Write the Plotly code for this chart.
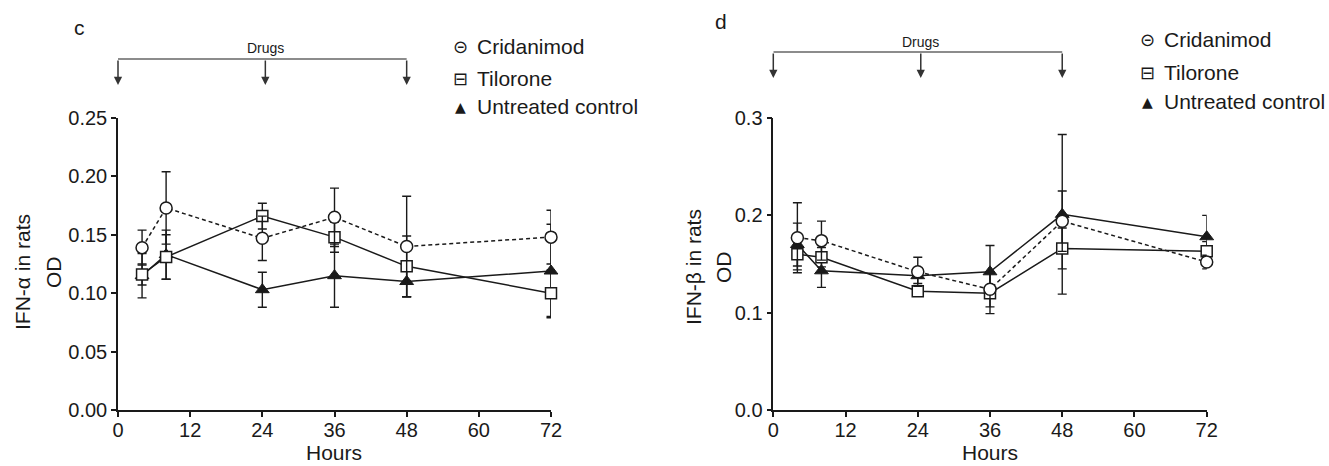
import plotly.graph_objects as go

W, H = 1329, 466

hours = [4, 8, 24, 36, 48, 72]
x_ticks = [0, 12, 24, 36, 48, 60, 72]
dose_hours = [0, 24.5, 48]

# Panel c: IFN-alpha
a_crid = [0.139, 0.173, 0.147, 0.165, 0.140, 0.148]
a_crid_err = [0.015, 0.031, 0.019, 0.025, 0.043, 0.023]
a_tilo = [0.116, 0.131, 0.166, 0.148, 0.123, 0.100]
a_tilo_err = [0.009, 0.019, 0.011, 0.013, 0.026, 0.020]
a_untr = [0.115, 0.133, 0.103, 0.115, 0.110, 0.119]
a_untr_err = [0.019, 0.021, 0.015, 0.027, 0.013, 0.040]
a_yticks = [0.00, 0.05, 0.10, 0.15, 0.20, 0.25]

# Panel d: IFN-beta
b_crid = [0.177, 0.174, 0.142, 0.124, 0.194, 0.152]
b_crid_err = [0.036, 0.020, 0.015, 0.018, 0.031, 0.007]
b_tilo = [0.160, 0.157, 0.122, 0.120, 0.166, 0.163]
b_tilo_err = [0.016, 0.010, 0.005, 0.021, 0.021, 0.010]
b_untr = [0.170, 0.143, 0.138, 0.142, 0.201, 0.178]
b_untr_err = [0.022, 0.017, 0.008, 0.027, 0.082, 0.022]
b_yticks = [0.0, 0.1, 0.2, 0.3]

series_names = ["Cridanimod", "Tilorone", "Untreated control"]
legend_symbols = ["\u229d", "\u229f", "\u25b2"]

FONT = "Arial, Liberation Sans, sans-serif"
INK = "#1a1a1a"

def px(x):
    return x / W

def py(y):
    return 1 - y / H

fig = go.Figure()

def add_panel(xa, ya, crid, crid_e, tilo, tilo_e, untr, untr_e):
    common = dict(x=hours, xaxis=xa, yaxis=ya, showlegend=False, cliponaxis=False,
                  mode="lines+markers")
    err = lambda e: dict(type="data", array=e, visible=True, color=INK, thickness=1.4, width=4.5)
    fig.add_trace(go.Scatter(y=untr, error_y=err(untr_e), name=series_names[2],
                             line=dict(color=INK, width=1.5),
                             marker=dict(symbol="triangle-up", size=12, color=INK,
                                         line=dict(color=INK, width=1)), **common))
    fig.add_trace(go.Scatter(y=tilo, error_y=err(tilo_e), name=series_names[1],
                             line=dict(color=INK, width=1.5),
                             marker=dict(symbol="square", size=11, color="white",
                                         line=dict(color=INK, width=1.5)), **common))
    fig.add_trace(go.Scatter(y=crid, error_y=err(crid_e), name=series_names[0],
                             line=dict(color=INK, width=1.5, dash="4px,3px"),
                             marker=dict(symbol="circle", size=12, color="white",
                                         line=dict(color=INK, width=1.5)), **common))

add_panel("x", "y", a_crid, a_crid_err, a_tilo, a_tilo_err, a_untr, a_untr_err)
add_panel("x2", "y2", b_crid, b_crid_err, b_tilo, b_tilo_err, b_untr, b_untr_err)

axis_common = dict(showgrid=False, zeroline=False, showline=True, linecolor=INK, linewidth=1.5,
                   ticks="outside", ticklen=5, tickwidth=1.5, tickcolor=INK,
                   tickfont=dict(family=FONT, size=20, color=INK), automargin=False)

ydom = [py(410), py(118)]
fig.update_layout(
    width=W, height=H, margin=dict(l=0, r=0, t=0, b=0),
    paper_bgcolor="white", plot_bgcolor="white",
    xaxis=dict(domain=[px(118), px(551)], range=[0, 72], tickvals=x_ticks,
               anchor="y", ticklabelstandoff=-4, **axis_common),
    yaxis=dict(domain=ydom, range=[0, 0.25], tickvals=a_yticks, tickformat=".2f",
               anchor="x", **axis_common),
    xaxis2=dict(domain=[px(773.3), px(1206.7)], range=[0, 72], tickvals=x_ticks,
                anchor="y2", ticklabelstandoff=-4, **axis_common),
    yaxis2=dict(domain=ydom, range=[0, 0.3], tickvals=b_yticks, tickformat=".1f",
                anchor="x2", **axis_common),
)

ann = []
shapes = []

def text(x, y, t, size=21, xanchor="center", yanchor="middle", angle=0, family=FONT):
    ann.append(dict(x=px(x), y=py(y), xref="paper", yref="paper", text=t, showarrow=False,
                    xanchor=xanchor, yanchor=yanchor, textangle=angle,
                    font=dict(family=family, size=size, color=INK)))

# axis titles
text(334.5, 466, "Hours", yanchor="bottom")
text(990, 466, "Hours", yanchor="bottom")
text(22, 272, "IFN-\u03b1 in rats", angle=-90)
text(53, 272, "OD", angle=-90)
text(693, 267, "IFN-\u03b2 in rats", angle=-90)
text(723, 267, "OD", angle=-90)

# panel letters
text(79, 28, "c", size=21)
text(721, 21, "d", size=21)

# Drugs brackets
def bracket(xref, line_y, tip_y, label_y):
    shapes.append(dict(type="line", xref=xref, yref="paper", x0=dose_hours[0], x1=dose_hours[-1],
                       y0=py(line_y), y1=py(line_y), line=dict(color="#666666", width=1.5)))
    for h in dose_hours:
        ann.append(dict(x=h, y=py(tip_y), xref=xref, yref="paper", text="", showarrow=True,
                        ax=0, ay=-(tip_y - line_y), arrowhead=2, arrowsize=1.1, arrowwidth=1.5,
                        arrowcolor="#333333", standoff=0, startstandoff=0))
    ann.append(dict(x=dose_hours[1], y=py(label_y), xref=xref, yref="paper", text="Drugs",
                    showarrow=False, xanchor="center", yanchor="middle",
                    font=dict(family=FONT, size=14, color=INK)))

bracket("x", 59, 85, 48)
bracket("x2", 52, 78, 42)

# legends
def legend(sym_x, text_x, rows):
    for s, n, r in zip(legend_symbols, series_names, rows):
        text(sym_x, r, s, size=18 if s != "\u25b2" else 14, family="DejaVu Sans, sans-serif")
        text(text_x, r, n, size=21, xanchor="left")

legend(460, 475, [46, 78, 107])
legend(1147, 1162, [40, 72, 102])

fig.update_layout(annotations=ann, shapes=shapes)
fig.write_html("out.html")
